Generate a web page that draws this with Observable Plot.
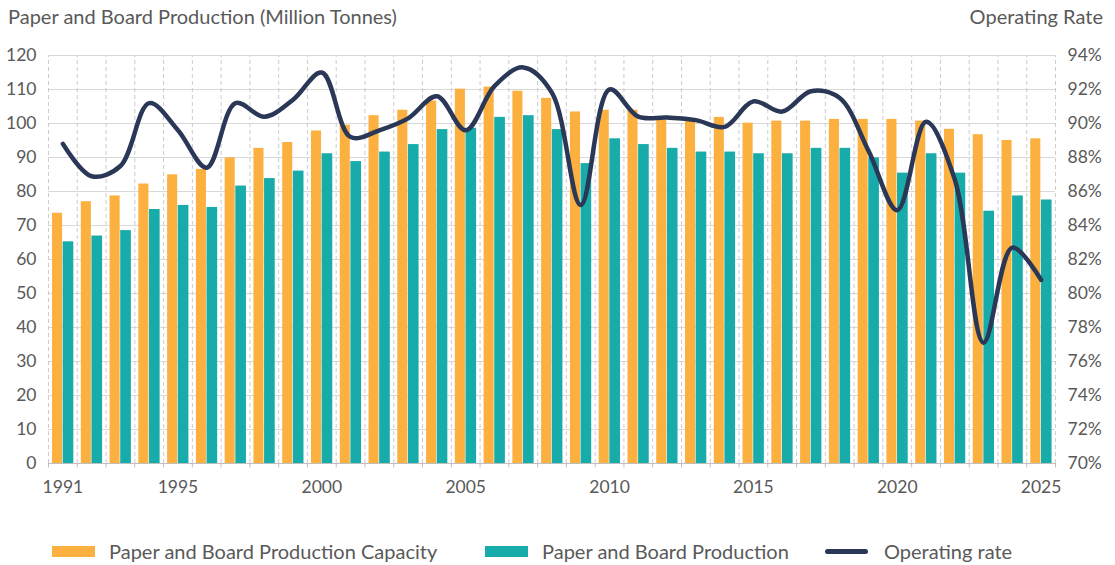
<!DOCTYPE html>
<html><head><meta charset="utf-8">
<script src="https://cdn.jsdelivr.net/npm/d3@7"></script>
<script src="https://cdn.jsdelivr.net/npm/@observablehq/plot@0.6"></script>
<style>
body{margin:0;background:#fff;font-family:Lato,sans-serif;color:#595959}
#wrap{position:relative;width:1115px;height:565px;overflow:hidden}
.t{position:absolute;top:4px;font-size:20px;line-height:24px;white-space:nowrap}
#chart{position:absolute;left:0;top:40px}
#legend{position:absolute;top:539px;left:0;width:1115px;height:24px;font-size:20px}
.li{position:absolute;top:0;display:flex;align-items:center;height:24px;line-height:24px;white-space:nowrap}
.sw{display:inline-block;width:43px;height:11px;margin-right:14px}
.ln{display:inline-block;width:43px;height:5px;border-radius:3px;margin-right:16px}
</style></head>
<body>
<div id="wrap">
  <div class="t" style="left:8px">Paper and Board Production (Million Tonnes)</div>
  <div class="t" style="right:12px">Operating Rate</div>
  <div id="chart"></div>
  <div id="legend"></div>
</div>
<script>
const years = [1991,1992,1993,1994,1995,1996,1997,1998,1999,2000,2001,2002,2003,2004,2005,2006,2007,2008,2009,2010,2011,2012,2013,2014,2015,2016,2017,2018,2019,2020,2021,2022,2023,2024,2025];
const capacity = [73.6,77.0,78.7,82.2,84.9,86.5,89.9,92.7,94.4,97.8,99.5,102.3,103.9,106.6,110.1,110.7,109.5,107.4,103.4,103.9,103.9,101.0,101.0,101.8,100.1,100.7,100.7,101.2,101.2,101.2,100.7,98.3,96.7,95.0,95.5];
const production = [65.2,66.9,68.5,74.7,75.9,75.3,81.6,83.8,86.0,91.1,88.8,91.6,93.8,98.2,98.6,101.8,102.3,98.2,88.2,95.5,93.8,92.7,91.6,91.6,91.1,91.1,92.7,92.7,89.9,85.4,91.1,85.4,74.2,78.7,77.5];
const operatingRate = [88.8,86.9,87.5,91.2,89.6,87.4,91.2,90.4,91.4,93.0,89.2,89.6,90.3,91.6,89.6,92.2,93.3,91.8,85.2,92.0,90.4,90.35,90.2,89.8,91.3,90.7,91.9,91.5,88.4,84.9,90.1,86.7,77.1,82.7,80.8];
const xTickYears = [1991,1995,2000,2005,2010,2015,2020,2025];
const leftTicks = [0,10,20,30,40,50,60,70,80,90,100,110,120];
const rightTicks = [70,72,74,76,78,80,82,84,86,88,90,92,94];
const seriesNames = ["Paper and Board Production Capacity","Paper and Board Production","Operating rate"];

const ORANGE = "#FBB040", TEAL = "#17ABAA", NAVY = "#2A3756";
const rateMin = 70, rateMax = 94, leftMax = 120;
const toLeft = r => (r - rateMin) * leftMax / (rateMax - rateMin);

const data = years.map((y, i) => ({year: y, cap: capacity[i], prod: production[i], rate: operatingRate[i]}));
const boundaries = [years[0] - 0.5, ...years.map(y => y + 0.5)];

const chart = Plot.plot({
  width: 1115, height: 480,
  marginTop: 15, marginBottom: 57, marginLeft: 48, marginRight: 60,
  style: {fontFamily: "Lato, sans-serif", fontSize: "17px", color: "#595959", background: "#fff"},
  x: {type: "linear", domain: [years[0] - 0.5, years[years.length - 1] + 0.5]},
  y: {domain: [0, leftMax]},
  marks: [
    Plot.ruleY(leftTicks.slice(1), {y: d => d, stroke: "#d9d9d9", strokeWidth: 1}),
    Plot.ruleX(boundaries, {x: d => d, y1: 0, y2: leftMax, stroke: "#cccccc", strokeDasharray: "4,3", strokeWidth: 1}),
    Plot.ruleX(boundaries, {x: d => d, y1: 0, y2: -1.3, stroke: "#bfbfbf", strokeWidth: 1, clip: false}),
    Plot.rectY(data, {x1: d => d.year - 0.36, x2: d => d.year - 0.01, y: "cap", fill: ORANGE}),
    Plot.rectY(data, {x1: d => d.year + 0.01, x2: d => d.year + 0.38, y: "prod", fill: TEAL}),
    Plot.ruleY([0], {stroke: "#bfbfbf", strokeWidth: 1}),
    Plot.line(data, {x: "year", y: d => toLeft(d.rate), stroke: NAVY, strokeWidth: 4.5, curve: "catmull-rom", strokeLinecap: "round", strokeLinejoin: "round"}),
    Plot.axisY(leftTicks, {anchor: "left", tickSize: 0, tickPadding: 12, label: null, fill: "#595959", fontSize: 17.5}),
    Plot.axisY(rightTicks.map(toLeft), {anchor: "right", tickSize: 0, tickPadding: 12, label: null, tickFormat: (v, i) => rightTicks[i] + "%", fill: "#595959", fontSize: 17.5}),
    Plot.axisX(xTickYears, {anchor: "bottom", tickSize: 0, tickPadding: 17, label: null, tickFormat: d => String(d), fill: "#595959", fontSize: 17.5})
  ]
});
document.getElementById("chart").appendChild(chart);

const legend = document.getElementById("legend");
const items = [
  {name: seriesNames[0], left: 52, html: `<span class="sw" style="background:${ORANGE}"></span>`},
  {name: seriesNames[1], left: 485, html: `<span class="sw" style="background:${TEAL}"></span>`},
  {name: seriesNames[2], left: 825, html: `<span class="ln" style="background:${NAVY}"></span>`}
];
for (const it of items) {
  const d = document.createElement("div");
  d.className = "li";
  d.style.left = it.left + "px";
  d.innerHTML = it.html + `<span>${it.name}</span>`;
  legend.appendChild(d);
}
</script>
</body></html>
